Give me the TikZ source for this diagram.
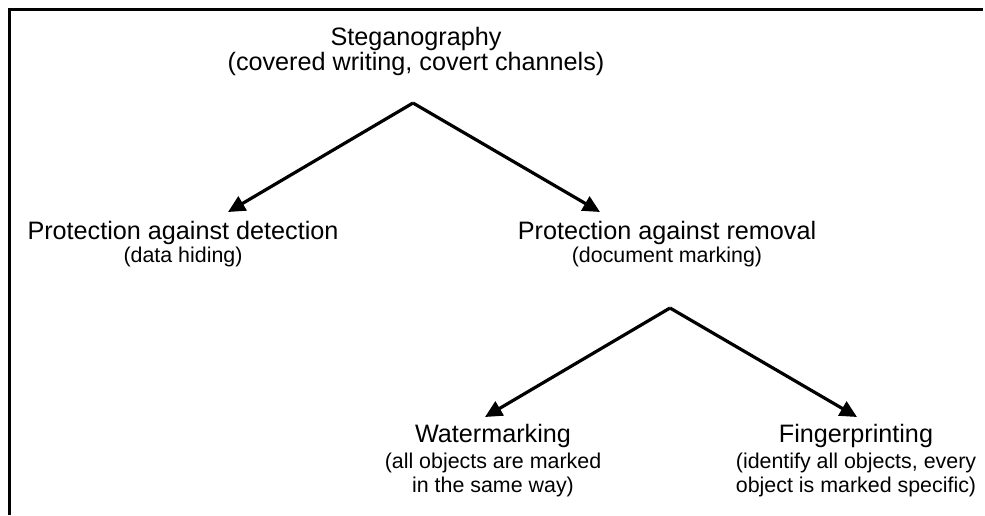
\documentclass[tikz,border=0pt]{standalone}
\usepackage{fontspec}
\setmainfont{Liberation Sans}
\usetikzlibrary{arrows.meta,positioning}
\newcommand{\mainsize}{\fontsize{12.6}{12}\selectfont}
\newcommand{\subsize}{\fontsize{10.7}{12}\selectfont}

\begin{document}
\begin{tikzpicture}[
  x=0.5pt, y=-0.5pt,
  label/.style={align=center, inner sep=0pt, anchor=north, font=\mainsize},
  arrow/.style={-{Triangle[length=8.5pt,width=8pt]}, line width=1.6pt},
  frame/.style={line width=1.5pt}
]
\useasboundingbox (0,0) rectangle (985,515);
\draw[frame] (9,515) -- (9,9) -- (983,9);

% labels
\node[label] (stego) at (416,26.4) {Steganography\\[0.5pt](covered writing, covert channels)};
\node[label] (detect) at (183,220.4) {Protection against detection\\[-0.5pt]\subsize (data hiding)};
\node[label] (remove) at (667,220.4) {Protection against removal\\[-0.5pt]\subsize (document marking)};
\node[label] (water) at (493,423.4) {Watermarking\\[1pt]\subsize (all objects are marked\\\subsize in the same way)};
\node[label] (finger) at (856,423.4) {Fingerprinting\\[1pt]\subsize (identify all objects, every\\\subsize object is marked specific)};

% fork points and arrow ends
\coordinate (stego-fork) at (413,103);
\coordinate (detect-in) at (228,212);
\coordinate (remove-in) at (600,212);
\coordinate (remove-fork) at (670,308);
\coordinate (water-in) at (485,417);
\coordinate (finger-in) at (857,417);

\draw[arrow] (stego-fork) -- (detect-in);
\draw[arrow] (stego-fork) -- (remove-in);
\draw[arrow] (remove-fork) -- (water-in);
\draw[arrow] (remove-fork) -- (finger-in);
\end{tikzpicture}
\end{document}
